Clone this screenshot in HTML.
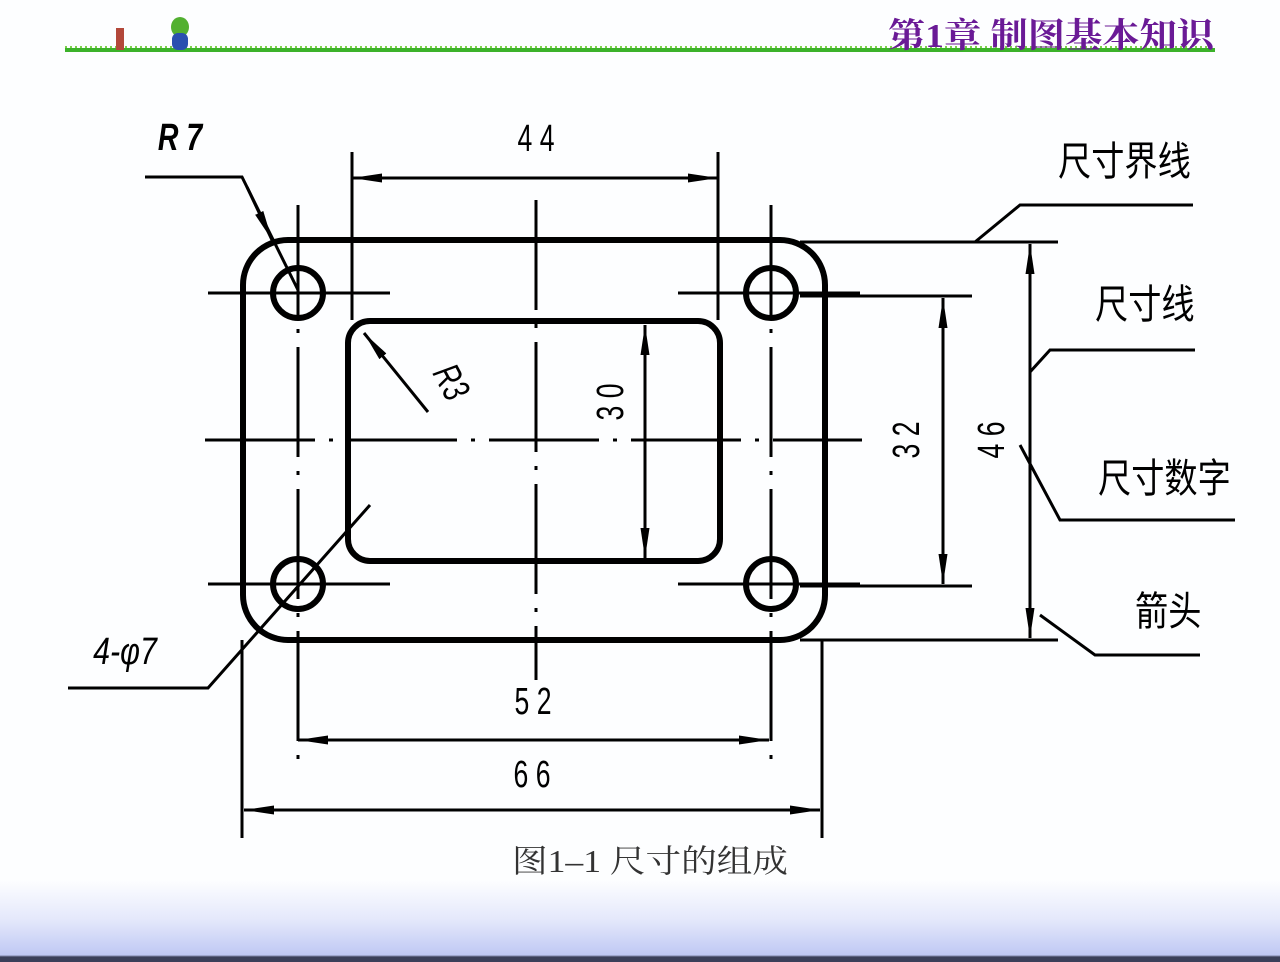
<!DOCTYPE html>
<html><head><meta charset="utf-8"><style>
html,body{margin:0;padding:0}
body{width:1280px;height:962px;overflow:hidden;position:relative;background:linear-gradient(#fdfeff 0,#fdfeff 880px,#e4e8fb 920px,#bfc8f4 955px,#3a3f5a 957px,#3a3f5a 962px);font-family:"Liberation Sans","Noto Sans CJK SC",sans-serif}
svg{position:absolute;left:0;top:0}
</style></head><body>
<svg width="1280" height="962" viewBox="0 0 1280 962">
<defs>
<marker id="a" viewBox="0 0 30 10" refX="30" refY="5" markerWidth="30" markerHeight="10" markerUnits="userSpaceOnUse" orient="auto-start-reverse"><path d="M0,0.5 L30,5 L0,9.5 Z" fill="#000"/></marker>
</defs>
<line x1="65" y1="50" x2="1215" y2="50" stroke="#3cb22a" stroke-width="4"/>
<line x1="65" y1="47" x2="1215" y2="47" stroke="#7cd04a" stroke-width="2" stroke-dasharray="2 3"/>
<rect x="116" y="28" width="8" height="22" fill="#b3483a"/>
<ellipse cx="180" cy="27" rx="9" ry="10" fill="#52b030"/>
<rect x="172" y="33" width="16" height="17" rx="6" fill="#2a50b0"/>
<text x="888" y="47" font-family="'Liberation Serif','Noto Serif CJK SC',serif" font-size="34" font-weight="bold" fill="#6a1a96" textLength="326" lengthAdjust="spacingAndGlyphs">第1章 制图基本知识</text>
<g fill="none" stroke="#000">
<rect x="243" y="240" width="582" height="400" rx="45" stroke-width="6"/>
<rect x="348" y="321" width="372" height="240" rx="22" stroke-width="6"/>
<circle cx="298" cy="293" r="25" stroke-width="6"/>
<circle cx="771" cy="293" r="25" stroke-width="6"/>
<circle cx="298" cy="584" r="25" stroke-width="6"/>
<circle cx="771" cy="584" r="25" stroke-width="6"/>
<g stroke-width="3" stroke-dasharray="110 14 4 14">
<line x1="205" y1="440" x2="862" y2="440"/>
<line x1="536" y1="200" x2="536" y2="680"/>
<line x1="298" y1="205" x2="298" y2="768"/>
<line x1="771" y1="205" x2="771" y2="768"/>
</g>
<g stroke-width="3">
<line x1="208" y1="293" x2="390" y2="293"/>
<line x1="678" y1="293" x2="860" y2="293"/>
<line x1="208" y1="584" x2="390" y2="584"/>
<line x1="678" y1="584" x2="860" y2="584"/>
<line x1="352" y1="152" x2="352" y2="320"/>
<line x1="718" y1="152" x2="718" y2="320"/>
<line x1="800" y1="296" x2="972" y2="296"/>
<line x1="800" y1="586" x2="972" y2="586"/>
<line x1="800" y1="242" x2="1058" y2="242"/>
<line x1="800" y1="640" x2="1058" y2="640"/>
<line x1="242" y1="640" x2="242" y2="838"/>
<line x1="822" y1="640" x2="822" y2="838"/>
<line x1="352" y1="178" x2="718" y2="178" marker-start="url(#a)" marker-end="url(#a)"/>
<line x1="645" y1="325" x2="645" y2="558" marker-start="url(#a)" marker-end="url(#a)"/>
<line x1="943" y1="298" x2="943" y2="584" marker-start="url(#a)" marker-end="url(#a)"/>
<line x1="1030" y1="244" x2="1030" y2="638" marker-start="url(#a)" marker-end="url(#a)"/>
<line x1="298" y1="740" x2="769" y2="740" marker-start="url(#a)" marker-end="url(#a)"/>
<line x1="244" y1="810" x2="820" y2="810" marker-start="url(#a)" marker-end="url(#a)"/>
<polyline points="145,177 242,177 298,290"/>
<path d="M247,187 L272,240" marker-end="url(#a)"/>
<line x1="428" y1="412" x2="364" y2="333" marker-end="url(#a)"/>
<polyline points="68,688 208,688 370,505"/>
<polyline points="975,242 1020,205 1193,205"/>
<polyline points="1030,372 1050,350 1195,350"/>
<polyline points="1020,445 1060,520 1235,520"/>
<polyline points="1040,615 1095,655 1200,655"/>
</g>
</g>
<g font-family="'Liberation Sans Narrow','Liberation Sans',sans-serif" font-size="38" fill="#000" text-anchor="middle">
<text transform="translate(536,151) scale(0.7,1)">4 4</text>
<text transform="translate(533,714) scale(0.7,1)">5 2</text>
<text transform="translate(532,787) scale(0.7,1)">6 6</text>
<text transform="translate(180,150) scale(0.75,1)" font-style="italic" font-weight="bold">R 7</text>
<text transform="translate(125,664) scale(0.8,1)" font-style="italic">4-φ7</text>
<text transform="translate(623,402) rotate(-90) scale(0.7,1)">3 0</text>
<text transform="translate(919,440) rotate(-90) scale(0.7,1)">3 2</text>
<text transform="translate(1004,440) rotate(-90) scale(0.7,1)">4 6</text>
<text transform="translate(440,388) rotate(62) scale(0.7,1)" font-style="italic">R3</text>
</g>
<g font-family="'Liberation Sans','Noto Sans CJK SC',sans-serif" font-size="40" fill="#000">
<text transform="translate(1058,175) scale(0.83,1)">尺寸界线</text>
<text transform="translate(1095,318) scale(0.83,1)">尺寸线</text>
<text transform="translate(1098,492) scale(0.83,1)">尺寸数字</text>
<text transform="translate(1135,625) scale(0.83,1)">箭头</text>
</g>
<text x="512" y="872" font-family="'Liberation Serif','Noto Serif CJK SC',serif" font-size="32" fill="#333" textLength="276" lengthAdjust="spacingAndGlyphs">图1–1 尺寸的组成</text>
</svg>
</body></html>
